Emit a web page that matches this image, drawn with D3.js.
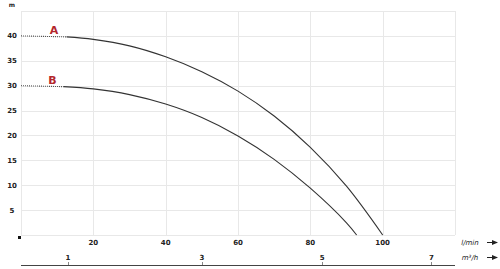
<!DOCTYPE html>
<html>
<head>
<meta charset="utf-8">
<script src="https://cdn.jsdelivr.net/npm/d3@7"></script>
<style>
  body { margin: 0; background: #fff; }
  text { font-family: "DejaVu Sans", sans-serif; }
</style>
</head>
<body>
<svg width="500" height="269"></svg>
<script>
// pump curves: flow in l/min, head in m
var flowA = [0, 12.6, 20, 30, 40, 50, 60, 70, 80, 90, 100];
var headA = [40, 39.8, 39.3, 38.0, 35.8, 32.8, 28.9, 23.9, 17.6, 9.8, 0];
var flowB = [0, 11.7, 20, 30, 40, 50, 60, 70, 80, 90, 92.8];
var headB = [30, 29.8, 29.35, 28.2, 26.3, 23.6, 19.9, 15.2, 9.4, 2.45, 0];
var dottedUntil = 1; // first segment of each curve is dotted

var xTicks = [20, 40, 60, 80, 100];
var yTicks = [5, 10, 15, 20, 25, 30, 35, 40];
var m3Ticks = [1, 3, 5, 7];
var m3TickFlow = [13, 50, 83.3, 113.5]; // where the m³/h ticks sit on the l/min axis

var svg = d3.select("svg");

var x = d3.scaleLinear().domain([0, 120]).range([21, 455]);
var y = d3.scaleLinear().domain([0, 45]).range([235, 11]);
var m3 = d3.scaleLinear().domain(m3Ticks).range(m3TickFlow.map(x));

// grid
var grid = svg.append("g").attr("stroke", "#e8e8e8").attr("stroke-width", 1);
grid.selectAll(".h").data(d3.range(0, 50, 5)).enter().append("line")
    .attr("x1", x(0)).attr("x2", x(120))
    .attr("y1", function(d) { return Math.round(y(d)) + 0.5; })
    .attr("y2", function(d) { return Math.round(y(d)) + 0.5; });
grid.selectAll(".v").data(d3.range(0, 140, 20)).enter().append("line")
    .attr("y1", y(0)).attr("y2", y(45))
    .attr("x1", function(d) { return Math.round(x(d)) + 0.5; })
    .attr("x2", function(d) { return Math.round(x(d)) + 0.5; });

// y labels
svg.append("text").attr("x", 12).attr("y", 7).attr("text-anchor", "middle")
    .attr("font-size", 6).attr("font-weight", "bold").attr("fill", "#222").text("m");
svg.selectAll(".yl").data(yTicks).enter().append("text")
    .attr("x", 12).attr("y", function(d) { return y(d) + 2.5; })
    .attr("text-anchor", "middle").attr("font-size", 7).attr("font-weight", "bold")
    .attr("fill", "#222").text(function(d) { return d; });

// origin marker
svg.append("rect").attr("x", x(0) - 3).attr("y", y(0) + 1).attr("width", 3).attr("height", 3).attr("fill", "#111");

// x labels (l/min)
svg.selectAll(".xl").data(xTicks).enter().append("text")
    .attr("x", function(d) { return x(d); }).attr("y", 245)
    .attr("text-anchor", "middle").attr("font-size", 7).attr("font-weight", "bold")
    .attr("fill", "#222").text(function(d) { return d; });

// m³/h axis
svg.append("line").attr("x1", x(0)).attr("x2", x(120)).attr("y1", 265.5).attr("y2", 265.5)
    .attr("stroke", "#444").attr("stroke-width", 1);
svg.selectAll(".mt").data(m3Ticks).enter().append("line")
    .attr("x1", function(d) { return Math.round(m3(d)) + 0.5; })
    .attr("x2", function(d) { return Math.round(m3(d)) + 0.5; })
    .attr("y1", 262).attr("y2", 265).attr("stroke", "#888");
svg.selectAll(".ml").data(m3Ticks).enter().append("text")
    .attr("x", function(d) { return m3(d); }).attr("y", 260)
    .attr("text-anchor", "middle").attr("font-size", 7).attr("font-weight", "bold")
    .attr("fill", "#222").text(function(d) { return d; });

// unit labels with arrows
function unit(txt, yy) {
  svg.append("text").attr("x", 470).attr("y", yy).attr("text-anchor", "middle")
      .attr("font-size", 7).attr("font-style", "italic").attr("fill", "#222").text(txt);
  svg.append("line").attr("x1", 487).attr("x2", 493).attr("y1", yy - 2.5).attr("y2", yy - 2.5)
      .attr("stroke", "#222").attr("stroke-width", 1);
  svg.append("path").attr("d", "M492," + (yy - 5) + "L498," + (yy - 2.5) + "L492," + yy + "Z")
      .attr("fill", "#222");
}
unit("l/min", 245);
unit("m\u00B3/h", 260);

// curves
var line = d3.line()
    .x(function(d) { return x(d[0]); })
    .y(function(d) { return y(d[1]); })
    .curve(d3.curveCatmullRom.alpha(0.5));

function curve(flow, head, name, labelFlow) {
  var pts = flow.map(function(f, i) { return [f, head[i]]; });
  svg.append("path").datum(pts.slice(0, dottedUntil + 1))
      .attr("d", d3.line().x(function(d) { return x(d[0]); }).y(function(d) { return y(d[1]); }))
      .attr("fill", "none").attr("stroke", "#555").attr("stroke-width", 1.1)
      .attr("stroke-dasharray", "1,1");
  svg.append("path").datum(pts.slice(dottedUntil))
      .attr("d", line)
      .attr("fill", "none").attr("stroke", "#333").attr("stroke-width", 1.1);
  svg.append("text").attr("x", x(labelFlow)).attr("y", y(head[0]) - 1.5)
      .attr("text-anchor", "middle").attr("font-size", 11).attr("font-weight", "bold")
      .attr("fill", "#b3262c").text(name);
}
curve(flowA, headA, "A", 9.1);
curve(flowB, headB, "B", 8.7);
</script>
</body>
</html>
